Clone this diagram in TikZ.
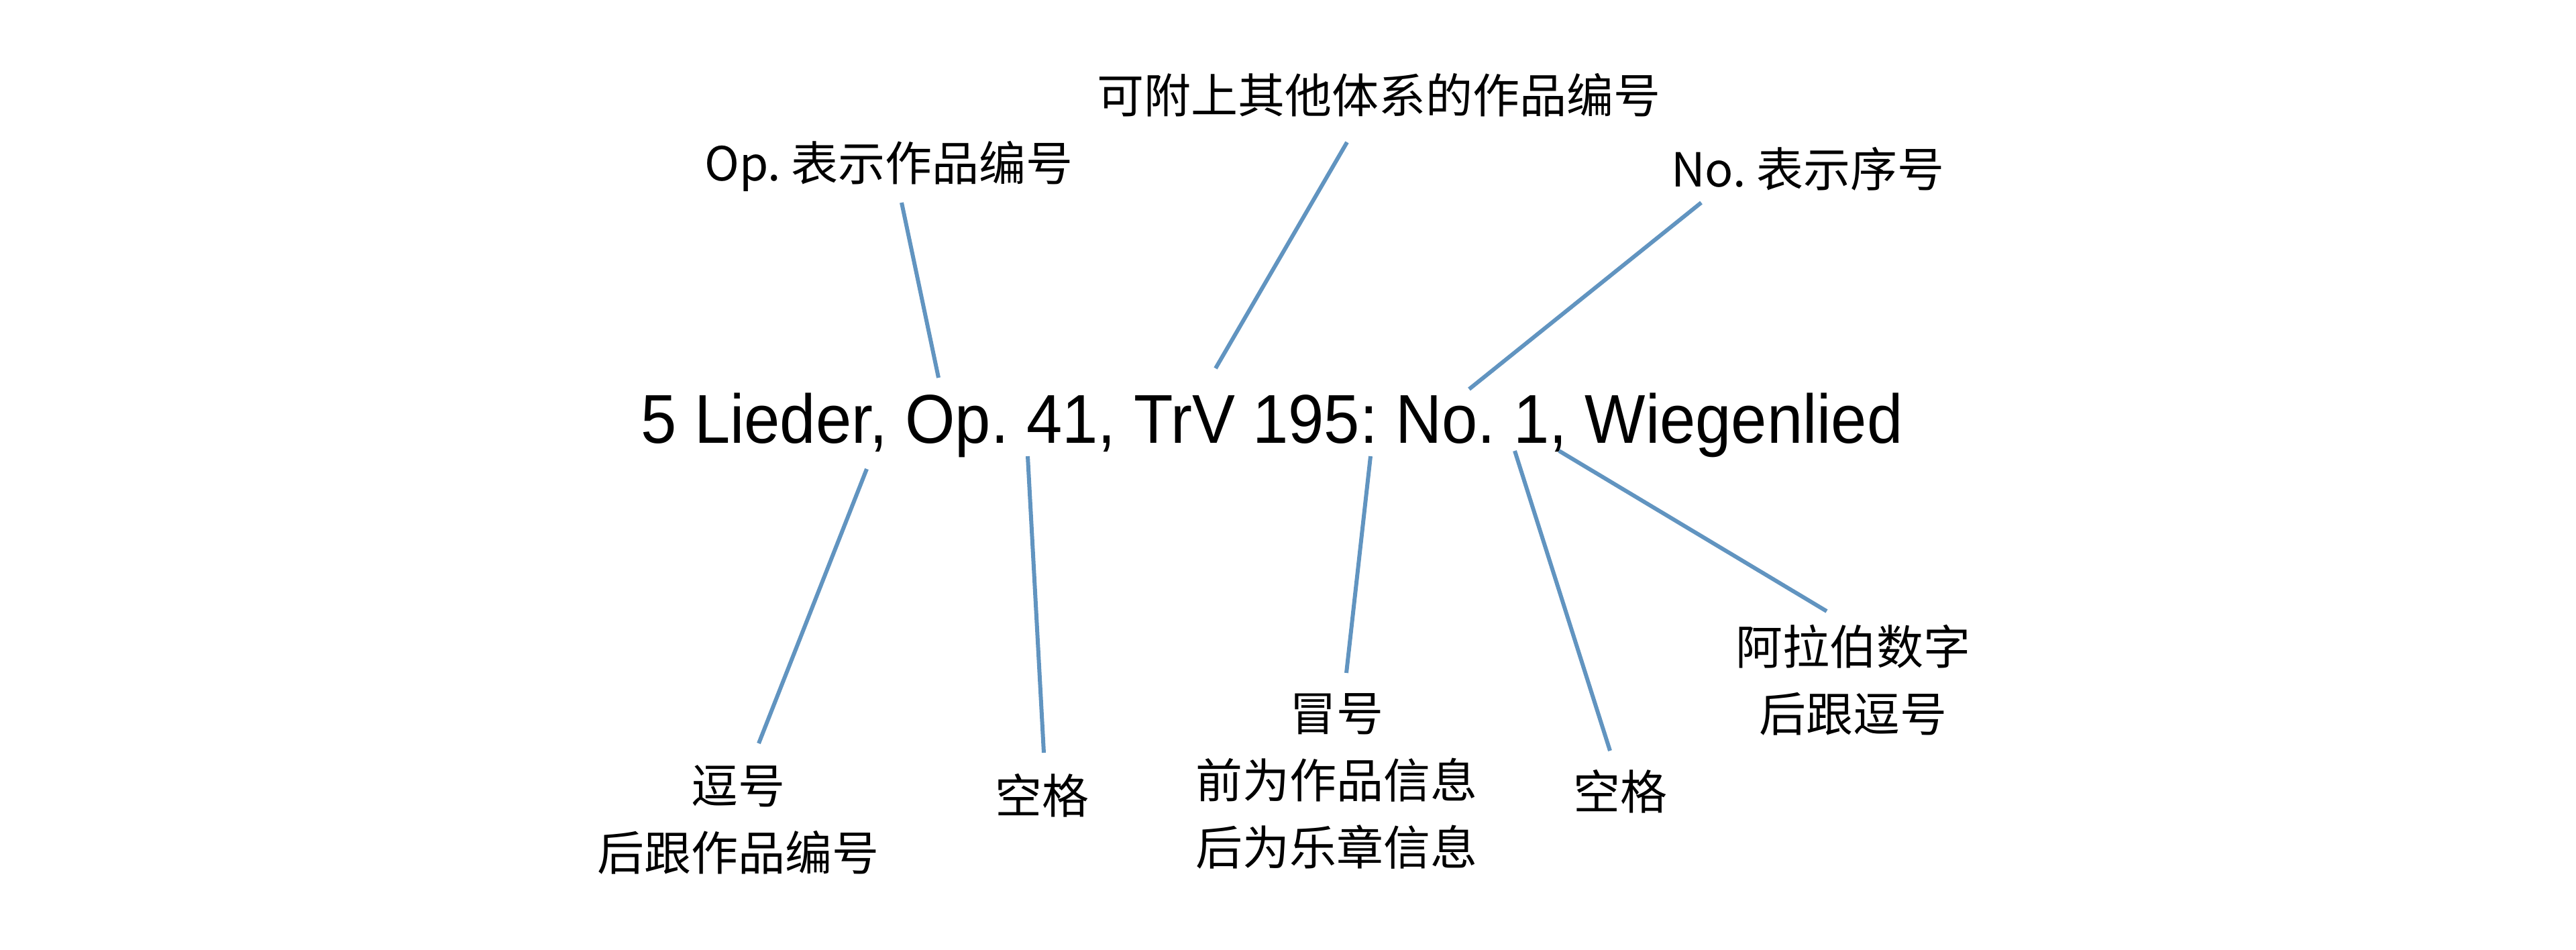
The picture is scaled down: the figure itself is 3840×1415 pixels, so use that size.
\documentclass[tikz,border=0pt]{standalone}
\usepackage{fontspec}
\setmainfont{Noto Sans CJK SC}
\newfontfamily\latinfont[FakeStretch=0.93]{Liberation Sans}
\frenchspacing
\definecolor{leader}{RGB}{97,148,192}
\tikzset{
  lbl/.style={inner sep=0pt, font=\fontsize{14pt}{20pt}\selectfont, align=center},
  mainlbl/.style={inner sep=0pt, font=\latinfont\fontsize{20.6pt}{25pt}\selectfont, anchor=base},
  leaderline/.style={draw=leader, line width=1.2pt}
}
\begin{document}
\begin{tikzpicture}[x=0.2pt,y=-0.2pt]
\useasboundingbox (0,0) rectangle (3840,1415);
% main title
\node[mainlbl] (title) at (1896,660) {\frenchspacing 5 Lieder, Op. 41, TrV 195: No. 1, Wiegenlied};
% top labels
\node[lbl] (op) at (1325,248) {\frenchspacing Op. 表示作品编号};
\node[lbl] (other) at (2055,142) {可附上其他体系的作品编号};
\node[lbl] (no) at (2695,252) {\frenchspacing No. 表示序号};
% bottom labels
\node[lbl] (comma) at (1100,1222) {逗号\\后跟作品编号};
\node[lbl] (space1) at (1553,1186) {空格};
\node[lbl] (colon) at (1992,1164) {冒号\\前为作品信息\\后为乐章信息};
\node[lbl] (space2) at (2415,1180) {空格};
\node[lbl] (arabic) at (2762,1014) {阿拉伯数字\\后跟逗号};
% connector ends
\coordinate (a1) at (1344,302); \coordinate (a2) at (1399,563);
\coordinate (b1) at (2008,212); \coordinate (b2) at (1812,549);
\coordinate (c1) at (2536,302); \coordinate (c2) at (2190,580);
\coordinate (d1) at (1292,699); \coordinate (d2) at (1131,1108);
\coordinate (e1) at (1532,680); \coordinate (e2) at (1556,1122);
\coordinate (f1) at (2043,680); \coordinate (f2) at (2007,1003);
\coordinate (g1) at (2258,672); \coordinate (g2) at (2400,1119);
\coordinate (h1) at (2324,672); \coordinate (h2) at (2723,911);
\draw[leaderline] (a1) -- (a2);
\draw[leaderline] (b1) -- (b2);
\draw[leaderline] (c1) -- (c2);
\draw[leaderline] (d1) -- (d2);
\draw[leaderline] (e1) -- (e2);
\draw[leaderline] (f1) -- (f2);
\draw[leaderline] (g1) -- (g2);
\draw[leaderline] (h1) -- (h2);
\end{tikzpicture}
\end{document}
